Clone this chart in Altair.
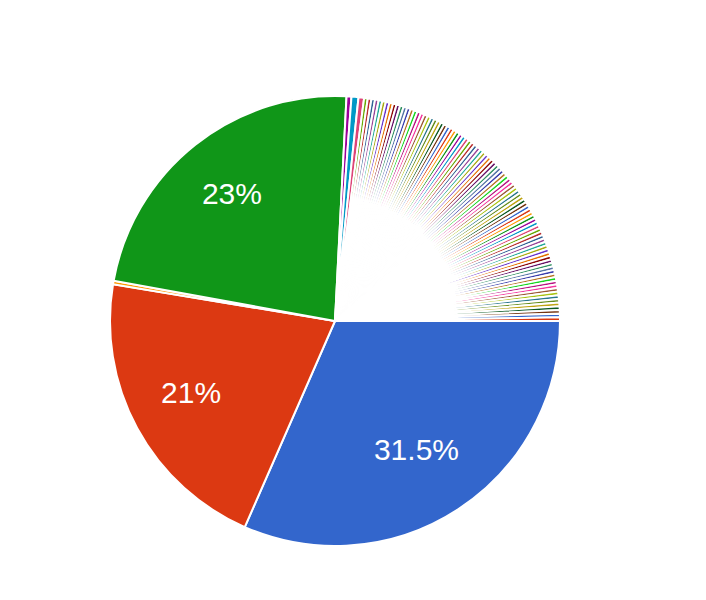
import altair as alt
import pandas as pd
import math

# Slice values (percent), in drawing order starting at 3 o'clock, clockwise
main_values = [31.5, 21.0, 0.25, 22.9, 0.35, 0.5, 0.4]
tiny_values = [
    0.26, 0.26, 0.26, 0.26, 0.26, 0.26, 0.26, 0.26, 0.26, 0.26,
    0.26, 0.26, 0.26, 0.26, 0.26, 0.26, 0.26, 0.26, 0.26, 0.26,
    0.26, 0.26, 0.26, 0.26, 0.26, 0.26, 0.26, 0.26, 0.26, 0.26,
    0.26, 0.26, 0.26, 0.26, 0.26, 0.26, 0.26, 0.26, 0.26, 0.26,
    0.26, 0.26, 0.26, 0.26, 0.26, 0.26, 0.26, 0.26, 0.26, 0.26,
    0.26, 0.26, 0.26, 0.26, 0.26, 0.26, 0.26, 0.26, 0.26, 0.26,
    0.26, 0.26, 0.26, 0.26, 0.26, 0.26, 0.26, 0.26, 0.26, 0.26,
    0.26, 0.26, 0.26, 0.26, 0.26, 0.26, 0.26, 0.26, 0.26, 0.26,
    0.26, 0.26, 0.26, 0.26, 0.26, 0.26, 0.26, 0.26,
]
labels_main = ["31.5%", "21%", "", "23%", "", "", ""]

palette = [
    "#3366cc", "#dc3912", "#ff9900", "#109618", "#990099", "#0099c6",
    "#dd4477", "#66aa00", "#b82e2e", "#316395", "#994499", "#22aa99",
    "#aaaa11", "#6633cc", "#e67300", "#8b0707", "#651067", "#329262",
    "#5574a6", "#3b3eac", "#b77322", "#16d620", "#b91383", "#f4359e",
    "#9c5935", "#a9c413", "#2a778d", "#668d1c", "#bea413", "#0c5922",
    "#743411",
]

values = main_values + tiny_values
labels = labels_main + [""] * len(tiny_values)
names = [f"s{i:03d}" for i in range(len(values))]
colors = [palette[i % len(palette)] for i in range(len(values))]

df = pd.DataFrame({"name": names, "value": values, "label": labels,
                   "idx": list(range(len(values)))})

CX, CY, R = 327, 313, 225
theta_scale = alt.Scale(range=[math.pi / 2, math.pi / 2 + 2 * math.pi])

base = alt.Chart(df).encode(
    theta=alt.Theta("value:Q", stack=True, scale=theta_scale),
    order=alt.Order("idx:Q"),
)

pie = base.mark_arc(outerRadius=R, stroke="white", strokeWidth=2).encode(
    color=alt.Color("name:N", scale=alt.Scale(domain=names, range=colors),
                    legend=None),
    x=alt.value(CX), y=alt.value(CY),
)

text = base.mark_text(radius=158, fontSize=30, font="Liberation Sans",
                      color="white", align="center", baseline="middle",
                      dx=-5, dy=-2).encode(
    text="label:N",
    x=alt.value(CX), y=alt.value(CY),
)

chart = (pie + text).properties(width=690, height=584, padding=0).configure_view(
    stroke=None
)

chart.save("out.html", embed_options={"renderer": "svg", "actions": False})
